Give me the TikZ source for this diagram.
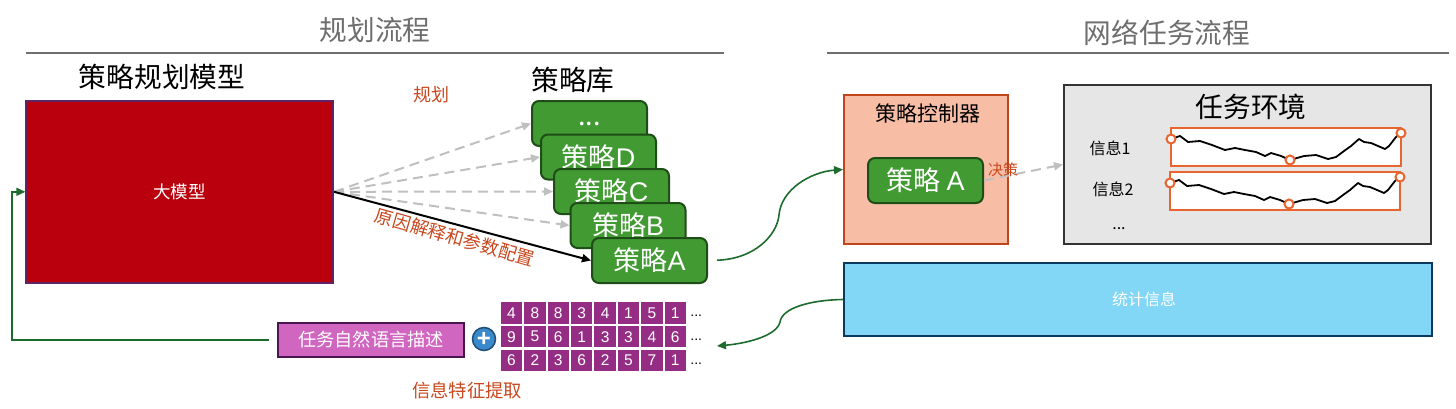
\documentclass[tikz,border=0pt]{standalone}
\usepackage{fontspec}
\setmainfont{Noto Sans CJK SC}
\newfontfamily\lat{Liberation Sans}
\usetikzlibrary{positioning, arrows.meta, calc}
\definecolor{redbox}{HTML}{BA000D}
\definecolor{redline}{HTML}{5F2464}
\definecolor{stratgreen}{HTML}{429A32}
\definecolor{stratline}{HTML}{1F4D17}
\definecolor{labelred}{HTML}{C8481F}
\definecolor{flowgreen}{HTML}{1E6B2E}
\definecolor{ctrlfill}{HTML}{F8BDA5}
\definecolor{ctrlline}{HTML}{C0441C}
\definecolor{envfill}{HTML}{E6E6E6}
\definecolor{envline}{HTML}{333333}
\definecolor{chartline}{HTML}{E9652F}
\definecolor{statsfill}{HTML}{82D6F6}
\definecolor{statsline}{HTML}{0B3A5E}
\definecolor{descfill}{HTML}{D066C0}
\definecolor{descline}{HTML}{4A1650}
\definecolor{cellfill}{HTML}{962D84}
\definecolor{plusfill}{HTML}{3A8ACB}
\definecolor{plusline}{HTML}{1F4E79}
\definecolor{headgray}{HTML}{6E6E6E}
\newcommand{\fs}[1]{\fontsize{#1}{#1}\selectfont}
\tikzset{
  label text/.style={inner sep=0pt, text=labelred, font=\fs{18}},
  plain text/.style={inner sep=0pt, font=\fs{27.7}},
  stratbox/.style={draw=stratline, fill=stratgreen, line width=2pt, rounded corners=7pt,
    minimum width=115, minimum height=45, text=white, font=\fs{27}, inner sep=0pt},
  plainbox/.style={line width=2pt, inner sep=0pt},
  plan arrow/.style={draw=black!25, line width=2pt, dash pattern=on 10pt off 6pt,
    -{Triangle[length=9pt,width=8pt]}},
  flow arrow/.style={draw=flowgreen, line width=1.6pt, -{Triangle[length=9pt,width=8pt]}},
  cell/.style={fill=cellfill, text=white, minimum width=21.5, minimum height=21.5,
    inner sep=0pt, font=\lat\fs{15.5}},
  chartdot/.style={circle, draw=chartline, fill=white, line width=2pt, minimum size=9, inner sep=0pt},
  chartbox/.style={draw=chartline, fill=white, line width=2pt, minimum width=230, minimum height=38, inner sep=0pt}
}
\begin{document}
\begin{tikzpicture}[x=1pt, y=-1pt]
\useasboundingbox (0, 0) rectangle (1456, 408);

\node[inner sep=0pt, text=headgray, font=\fs{27.7}] (plantitle) at (375, 30){规划流程};
\node[inner sep=0pt, text=headgray, font=\fs{27.7}] (nettitle) at (1167, 33){网络任务流程};
\coordinate (planleft) at (26, 53);
\coordinate (planright) at (724, 53);
\coordinate (netleft) at (827, 53);
\coordinate (netright) at (1449, 53);
\draw[headgray, line width=1.5pt] (planleft) -- (planright);
\draw[headgray, line width=1.5pt] (netleft) -- (netright);

\node[plain text] (modeltitle) at (162, 77){策略规划模型};
\node[plainbox, draw=redline, fill=redbox, minimum width=306.7, minimum height=181.7, text=white, font=\fs{17.5}] (model) at (179.7, 191.8){大模型};
\node[label text] (plan) at (431, 95){规划};
\node[plain text] (libtitle) at (573, 80){策略库};

\node[stratbox] (stratdots) at (589.5, 123.5){...};
\foreach \name/\cx/\cy/\txt in {stratD/598.5/157/策略{\lat D},
  stratC/611.5/191.5/策略{\lat C}, stratB/628/225.5/策略{\lat B}, stratA/649.5/260.5/策略{\lat A}}
  \node[stratbox] (\name) at (\cx, \cy){\txt};

\draw[plan arrow] (model.east) -- (stratdots.west);
\draw[plan arrow] (model.east) -- (stratD.west);
\draw[plan arrow] (model.east) -- (stratC.west);
\draw[plan arrow] (model.east) -- (stratB.west);
\draw[line width=2pt, -{Triangle[length=9pt,width=8pt]}] (model.east) -- (stratA.west);
\node[label text, rotate=-16, font=\fs{18.3}] (reason) at (455, 237){原因解释和参数配置};

\node[plainbox, draw=ctrlline, fill=ctrlfill, minimum width=164, minimum height=149] (ctrl) at (926, 169.5){};
\node[inner sep=0pt, font=\fs{21}] (ctrltitle) at (928, 113){策略控制器};
\node[stratbox] (ctrlstrat) at (925.5, 180.5){策略 {\lat A}};

\node[plainbox, draw=envline, fill=envfill, minimum width=367, minimum height=159] (env) at (1247.5, 164.5){};
\node[plain text] (envtitle) at (1251, 107){任务环境};
\node[inner sep=0pt, font=\fs{16}] (info1) at (1110, 148){信息1};
\node[inner sep=0pt, font=\fs{16}] (info2) at (1113, 189){信息2};
\node[inner sep=0pt, font=\fs{16}] (infodots) at (1119, 229){...};

\draw[plan arrow] (ctrlstrat.east) -- (env.west);
\node[label text, font=\fs{15}] (decide) at (1003, 170){决策};

\foreach \i/\dx/\dy in {1/0/0, 2/-1/44} {
  \begin{scope}[shift={(\dx, \dy)}]
  \node[chartbox] (chart\i) at (1286, 147){};
  \draw[line width=1.8pt, line join=round] plot coordinates {(1171,139) (1180,136) (1188,142) (1200,141) (1212,145)
    (1225,150) (1235,148) (1245,150) (1256,152) (1265,156) (1271,153) (1281,156) (1290,160) (1304,156)
    (1316,155) (1328,159) (1336,157) (1344,151) (1351,146) (1359,139) (1364,142) (1371,143) (1385,149)
    (1389,146) (1396,137) (1401,133)};
  \node[chartdot] (left\i) at (1171, 139){};
  \node[chartdot] (mid\i) at (1290, 160){};
  \node[chartdot] (right\i) at (1401, 133){};
  \end{scope}
}

\node[plainbox, draw=statsline, fill=statsfill, minimum width=588, minimum height=72.4, text=white, font=\fs{16}] (stats) at (1138, 299.5){};
\node[inner sep=0pt, text=white, font=\fs{16}] (statstext) at (1144, 299){统计信息};

\node[plainbox, draw=descline, fill=descfill, minimum width=186, minimum height=34, text=white, font=\fs{18.2}] (desc) at (371, 340){任务自然语言描述};
\node[circle, draw=plusline, fill=plusfill, line width=1.5pt, minimum size=23, inner sep=0pt, text=white, font=\lat\bfseries\fs{24}] (plus) at (484, 339){+};

\foreach \row [count=\r] in {{4,8,8,3,4,1,5,1}, {9,5,6,1,3,3,4,6}, {6,2,3,6,2,5,7,1}} {
  \foreach \d [count=\c] in \row
    \node[cell] (cell-\r-\c) at ({511.5 + (\c - 1) * 23.4}, {313 + (\r - 1) * 23.7}){\d};
  \node[right=4pt of cell-\r-8, inner sep=0pt, font=\lat\fs{14}, yshift=-3pt] (dots-\r) {...};
}
\node[label text, font=\fs{18.3}] (extract) at (467, 390){信息特征提取};

\coordinate (leftturn) at (12, 340);
\coordinate (statsend) at (717, 346);
\draw[flow arrow, shorten <=8pt] (desc.west) -- (leftturn) |- (model.west);
\draw[flow arrow, shorten <=9pt] (stratA.east) .. controls (755, 259) and (777, 235) .. (779, 215)
  .. controls (781, 190) and (810, 172) .. (ctrl.west);
\draw[flow arrow] (stats.west) .. controls (810, 300) and (782, 308) .. (780, 322)
  .. controls (777, 335) and (750, 343) .. (statsend);
\end{tikzpicture}
\end{document}
